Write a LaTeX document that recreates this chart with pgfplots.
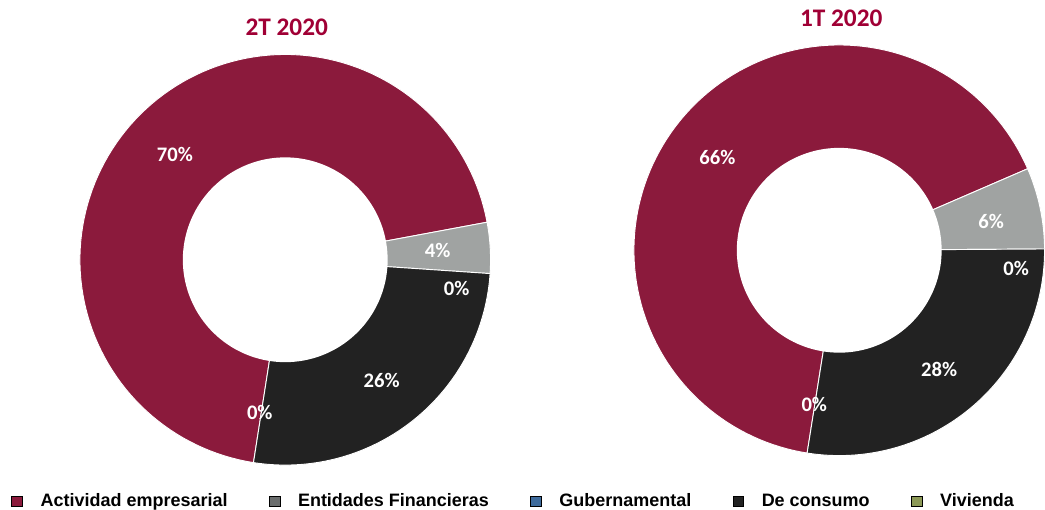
\documentclass[border=0pt]{standalone}
\usepackage{pgfplots}
\pgfplotsset{compat=1.18}
\usepackage{pgfplotstable}
\usepackage{fontspec}
\setmainfont{Liberation Sans}
\newfontfamily\calibri{Carlito}
\definecolor{cRed}{HTML}{8B1A3C}
\definecolor{cGray}{HTML}{A0A3A2}
\definecolor{cGrayLeg}{HTML}{6A6D6D}
\definecolor{cDark}{HTML}{222222}
\definecolor{cBlue}{HTML}{3E6B9C}
\definecolor{cOlive}{HTML}{8C9957}
\definecolor{cTitle}{HTML}{A00035}

% Shares (%)
% 2T 2020: Actividad 69.6, Entidades 4.0, Gubernamental 0.0, Consumo 26.4, Vivienda 0.0  (start angle 261.1)
% 1T 2020: Actividad 66.0, Entidades 6.4, Gubernamental 0.0, Consumo 27.6, Vivienda 0.0  (start angle 261.0)
\pgfplotstableread{
cat share2T share1T
Actividad 69.6 66.0
Entidades 4.0 6.4
Gubernamental 0.0 0.0
Consumo 26.4 27.6
Vivienda 0.0 0.0
}\shares

\newcommand{\donutslice}[5]{%
  \addplot[forget plot, fill=#5, draw=white, line width=0.7pt, domain=#3:#4, samples=120, variable=\t]
    ({#1+205.5*cos(\t)},{#2+205.5*sin(\t)}) -- (axis cs:#1,#2) -- cycle;
}
\newcommand{\donuthole}[2]{%
  \addplot[forget plot, fill=white, draw=none, domain=0:360, samples=180, variable=\t]
    ({#1+102.5*cos(\t)},{#2+102.5*sin(\t)}) -- cycle;
}

\begin{document}
\begin{tikzpicture}
\begin{axis}[
  x=0.75pt, y=0.75pt,
  xmin=0, xmax=1045, ymin=0, ymax=510,
  hide axis, clip=false,
  anchor=south west, at={(0,0)},
  legend columns=5,
  legend image code/.code={\fill[#1] (0pt,-3.6pt) rectangle (8pt,3.6pt);},
  legend style={
    at={(0.491,0.0167)}, anchor=center, draw=none, fill=none,
    inner sep=0pt, nodes={inner sep=0pt},
    font=\bfseries\fontsize{13.5}{16}\selectfont,
    /tikz/every odd column/.append style={column sep=13.5pt},
    /tikz/every even column/.append style={column sep=31pt},
  },
]
% ---- 2T 2020 (center 285.5, 250) : start 261.1, each % = 3.6 deg
\donutslice{285.5}{250}{10.54}{261.1}{cRed}     % 69.6
\donutslice{285.5}{250}{-3.86}{10.54}{cGray}    % 4.0
\donutslice{285.5}{250}{-98.9}{-3.86}{cDark}    % 26.4
\donuthole{285.5}{250}
% ---- 1T 2020 (center 840, 259.5) : start 261.0
\donutslice{840}{259.5}{23.4}{261.0}{cRed}      % 66.0
\donutslice{840}{259.5}{0.36}{23.4}{cGray}      % 6.4
\donutslice{840}{259.5}{-99.0}{0.36}{cDark}     % 27.6
\donuthole{840}{259.5}

\addlegendimage{fill=cRed}\addlegendentry{Actividad empresarial}
\addlegendimage{fill=cGrayLeg}\addlegendentry{Entidades Financieras}
\addlegendimage{fill=cBlue}\addlegendentry{Gubernamental}
\addlegendimage{fill=cDark}\addlegendentry{De consumo}
\addlegendimage{fill=cOlive}\addlegendentry{Vivienda}

% titles
\node[text=cTitle, font=\calibri\bfseries\fontsize{19}{19}\selectfont] at (axis cs:287,483) {2T 2020};
\node[text=cTitle, font=\calibri\bfseries\fontsize{19}{19}\selectfont] at (axis cs:842,492) {1T 2020};
% data labels
\begin{scope}[every node/.style={text=white, font=\calibri\bfseries\fontsize{15.5}{15.5}\selectfont}]
\node at (axis cs:175,355) {70\%};
\node at (axis cs:438,259) {4\%};
\node at (axis cs:457,221) {0\%};
\node at (axis cs:382,129) {26\%};
\node at (axis cs:260,97) {0\%};
\node at (axis cs:718,352) {66\%};
\node at (axis cs:992,288) {6\%};
\node at (axis cs:1017,241) {0\%};
\node at (axis cs:940,140) {28\%};
\node at (axis cs:815,105) {0\%};
\end{scope}
\end{axis}
\path (0,0) rectangle (783.75pt,382.5pt);
\end{tikzpicture}
\end{document}
